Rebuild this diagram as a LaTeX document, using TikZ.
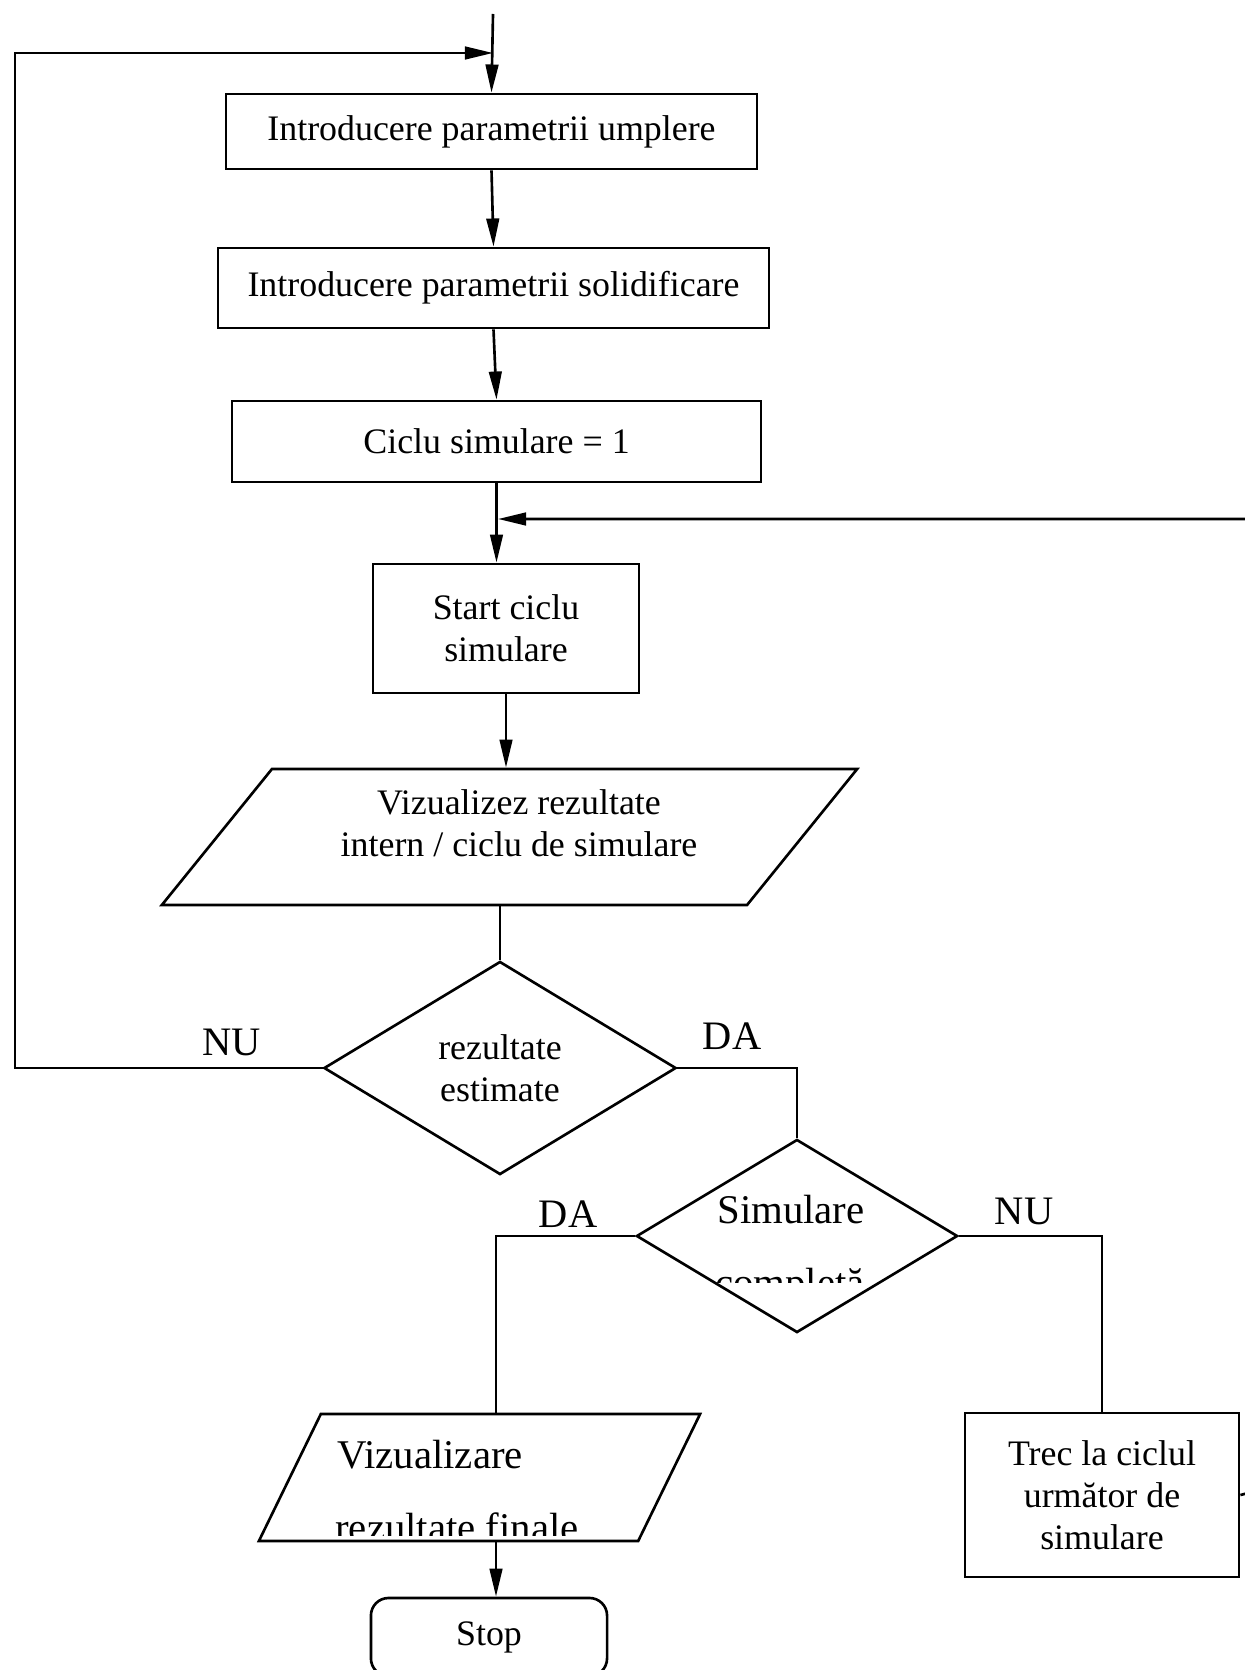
\documentclass[tikz,border=0pt]{standalone}
\usepackage{fontspec}
\setmainfont{Liberation Serif}
\usetikzlibrary{shapes.geometric,arrows.meta}

\begin{document}
\begin{tikzpicture}[x=0.01cm,y=-0.01cm,line width=0.75pt,
    >={Triangle[length=8pt,width=3.6pt]},
    every node/.style={font=\fontsize{10.2}{12}\selectfont},
    box/.style={draw,rectangle,align=center},
    io/.style={draw,trapezium,trapezium stretches body,text height=0pt,text depth=0pt},
    dec/.style={draw,diamond,align=center,inner sep=0pt},
    lbl/.style={font=\fontsize{11.5}{13}\selectfont},
    big/.style={font=\fontsize{11.6}{13}\selectfont,inner sep=0pt}]
  \useasboundingbox (0,0) rectangle (1244,1670);
  \coordinate (entry) at (493,14); \coordinate (lft) at (15,53);
  \coordinate (j) at (498,519); \coordinate (rgt) at (1256,1491);
  \coordinate (q) at (496,0);
  \node[box,minimum width=5.31cm,minimum height=0.75cm] (b1) at (491.5,131.5) {Introducere parametrii umplere};
  \node[box,minimum width=5.51cm,minimum height=0.80cm] (b2) at (493.5,288) {Introducere parametrii solidificare};
  \node[box,minimum width=5.29cm,minimum height=0.81cm] (b3) at (496.5,441.5) {Ciclu simulare = 1};
  \node[box,minimum width=2.66cm,minimum height=1.29cm] (b4) at (506,628.5) {Start ciclu\\simulare};
  \node[io,trapezium left angle=51,trapezium right angle=129,inner ysep=0.68cm,
        minimum width=6.95cm] (p1) at (509.5,837) {};
  \node[align=center] (p1t) at (519,823) {Vizualizez rezultate\\intern / ciclu de simulare};
  \node[dec,minimum width=3.52cm,minimum height=2.13cm] (d1) at (500,1068) {rezultate\\estimate};
  \node[dec,minimum width=3.21cm,minimum height=1.93cm] (d2) at (797,1236) {};
  \node[io,trapezium left angle=64,trapezium right angle=116,inner ysep=0.635cm,
        minimum width=4.41cm] (p2) at (479.5,1477.5) {};
  \node[box,minimum width=2.74cm,minimum height=1.64cm] (t) at (1102,1495) {Trec la ciclul\\următor de\\simulare};
  \node[box,rounded corners=5pt,minimum width=2.36cm,minimum height=0.78cm] (s) at (489,1637) {Stop};
  % texts of the lower decision and output
  \node[big,anchor=base] (d2a) at (791,1223) {Simulare};
  \begin{scope}
    \clip (600,1200) rectangle (1000,1282);
    \node[big,anchor=base] (d2b) at (790,1296) {completă};
  \end{scope}
  \node[big,anchor=base west] (p2a) at (336,1468) {Vizualizare};
  \begin{scope}
    \clip (250,1480) rectangle (700,1535);
    \node[big,anchor=base west] (p2b) at (334,1541) {rezultate finale};
  \end{scope}
  % branch labels
  \node[lbl] (nu1) at (232,1042) {NU}; \node[lbl] (da1) at (732,1036) {DA};
  \node[lbl] (da2) at (568,1214) {DA}; \node[lbl] (nu2) at (1024,1211) {NU};
  % connectors
  \draw[->] (entry) -- (b1.north);
  \draw[->] (b1.south) -- (b2.north);
  \draw[->] (b2.south) -- (b3.north);
  \draw[->] (b3.south) -- (b3.south |- b4.north);
  \draw[->] (b4.south) -- (b4.south |- p1.north);
  \draw (p1.south -| d1.north) -- (d1.north);
  \draw[->] (d1.west) -| (lft) -- (entry |- lft);
  \draw (d1.east) -| (d2.north);
  \draw (d2.west) -| (q |- p2.north);
  \draw (d2.east) -| (t.north);
  \draw[->] (q |- p2.south) -- (q |- s.north);
  \draw[->] (t.east) -- (rgt) |- (j);
\end{tikzpicture}
\end{document}
